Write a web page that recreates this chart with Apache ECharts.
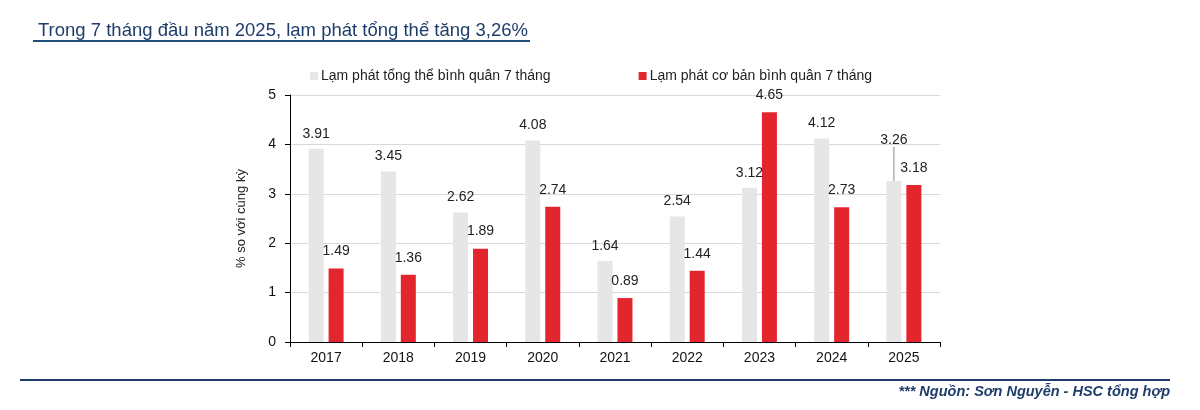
<!DOCTYPE html>
<html>
<head>
<meta charset="utf-8">
<script src="https://cdn.jsdelivr.net/npm/echarts@6/dist/echarts.min.js"></script>
<style>
html,body{margin:0;padding:0;background:#fff;}
#c{width:1200px;height:410px;}
</style>
</head>
<body>
<div id="c"></div>
<script>
const categories = ['2017','2018','2019','2020','2021','2022','2023','2024','2025'];
const headline = [3.91, 3.45, 2.62, 4.08, 1.64, 2.54, 3.12, 4.12, 3.26];
const core = [1.49, 1.36, 1.89, 2.74, 0.89, 1.44, 4.65, 2.73, 3.18];
const yTicks = [0, 1, 2, 3, 4, 5];
const seriesNames = ['Lạm phát tổng thể bình quân 7 tháng', 'Lạm phát cơ bản bình quân 7 tháng'];

const chart = echarts.init(document.getElementById('c'));
const font = 'Liberation Sans, Arial, sans-serif';
const headlineData = headline.map(function (v, i) {
  return i === headline.length - 1 ? {value: v, labelLine: {show: true}} : v;
});
chart.setOption({
  animation: false,
  textStyle: {fontFamily: font},
  title: {
    text: 'Trong 7 tháng đầu năm 2025, lạm phát tổng thể tăng 3,26%',
    left: 33, top: 16,
    textStyle: {fontFamily: font, fontSize: 18.5, fontWeight: 'normal', color: '#1f3d6b'}
  },
  graphic: [
    {type: 'line', shape: {x1: 33, y1: 41, x2: 530, y2: 41}, style: {stroke: '#1f4e79', lineWidth: 2}},
    {type: 'line', shape: {x1: 20, y1: 380, x2: 1170, y2: 380}, style: {stroke: '#1f3d6b', lineWidth: 2}},
    {type: 'text', right: 30, top: 384, style: {text: '*** Nguồn: Sơn Nguyễn - HSC tổng hợp', font: 'italic bold 14.5px ' + font, fill: '#1f3d6b'}}
  ],
  legend: {
    top: 64, left: 305, itemGap: 88,
    itemWidth: 8, itemHeight: 8, icon: 'rect',
    textStyle: {fontFamily: font, fontSize: 14, color: '#222', padding: [0,0,0,-2]},
    data: seriesNames
  },
  grid: {left: 290, right: 260, top: 95, bottom: 68},
  xAxis: {
    type: 'category', data: categories,
    axisLine: {lineStyle: {color: '#000', width: 1}},
    axisTick: {show: true, length: 5, lineStyle: {color: '#000'}},
    axisLabel: {color: '#111', fontSize: 14, margin: 9, fontFamily: font}
  },
  yAxis: {
    type: 'value', min: yTicks[0], max: yTicks[yTicks.length - 1], interval: 1,
    name: '% so với cùng kỳ', nameLocation: 'middle', nameGap: 42, nameRotate: 90,
    nameTextStyle: {fontSize: 13, color: '#222', fontFamily: font},
    axisLine: {show: true, lineStyle: {color: '#000'}},
    axisTick: {show: true, length: 5, lineStyle: {color: '#000'}},
    axisLabel: {color: '#111', fontSize: 14, margin: 14, fontFamily: font},
    splitLine: {lineStyle: {color: '#d9d9d9', width: 1}}
  },
  series: [
    {
      name: seriesNames[0], type: 'bar', data: headlineData,
      barWidth: 15, barGap: '33%',
      itemStyle: {color: '#e6e6e6'},
      label: {show: true, position: 'top', distance: 8, fontSize: 14, color: '#222', fontFamily: font},
      labelLayout: function (p) { return p.dataIndex === 8 ? {dy: -26} : {}; },
      labelLine: {show: false, lineStyle: {color: '#888', width: 1}}
    },
    {
      name: seriesNames[1], type: 'bar', data: core,
      barWidth: 15,
      itemStyle: {color: '#e3262e'},
      label: {show: true, position: 'top', distance: 10, fontSize: 14, color: '#222', fontFamily: font}
    }
  ]
});
</script>
</body>
</html>
